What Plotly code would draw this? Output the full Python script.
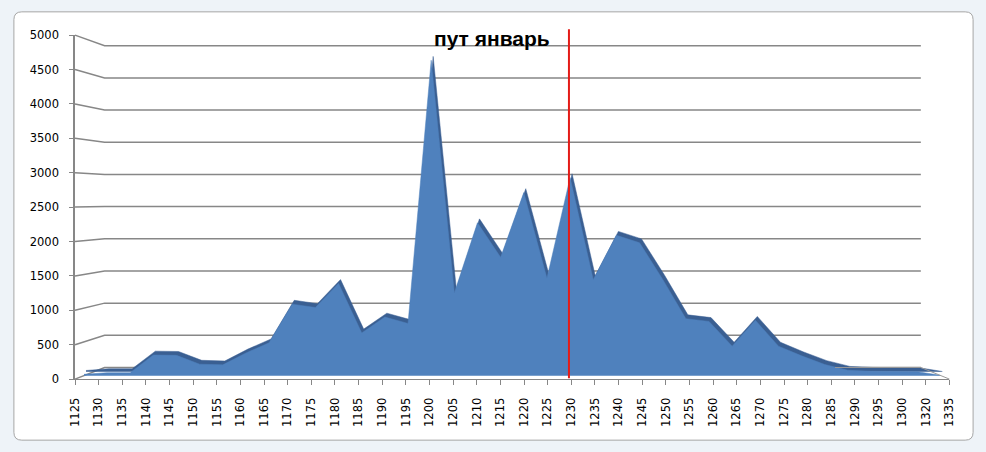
import plotly.graph_objects as go

# ---- data ----
categories = ["1125", "1130", "1135", "1140", "1145", "1150", "1155", "1160", "1165", "1170",
              "1175", "1180", "1185", "1190", "1195", "1200", "1205", "1210", "1215", "1220",
              "1225", "1230", "1235", "1240", "1245", "1250", "1255", "1260", "1265", "1270",
              "1275", "1280", "1285", "1290", "1295", "1300", "1320", "1335"]
values = [20, 45, 45, 305, 300, 170, 160, 335, 485, 1055,
          1005, 1360, 630, 865, 770, 4650, 1220, 2255, 1745, 2700,
          1435, 2920, 1415, 2070, 1960, 1420, 840, 800, 436, 817,
          436, 293, 165, 80, 65, 60, 60, 5]
y_ticks = [0, 500, 1000, 1500, 2000, 2500, 3000, 3500, 4000, 4500, 5000]
title_text = "пут январь"
marker_category = "1230"

W, H = 986, 452
idx = list(range(len(categories)))
n_last = len(categories) - 1


def px(x):
    return x / W


def py(y):
    return 1 - y / H


GRID = "#878787"
FONT = "DejaVu Sans"

fig = go.Figure()

# empty trace so the labelled front axes subplot is created
fig.add_trace(go.Scatter(x=[None], y=[None], xaxis="x", yaxis="y", mode="lines",
                         hoverinfo="skip", showlegend=False))
# back (depth) face of the 3D area
fig.add_trace(go.Scatter(x=idx, y=values, xaxis="x2", yaxis="y2", mode="lines",
                         line=dict(color="#3a5f92", width=0.5), fill="tozeroy",
                         fillcolor="#3a5f92", hoverinfo="skip", showlegend=False))
# front face
fig.add_trace(go.Scatter(x=idx, y=values, xaxis="x3", yaxis="y3", mode="lines",
                         line=dict(color="#4f81bd", width=0.5), fill="tozeroy",
                         fillcolor="#4f81bd", showlegend=False))

shapes = []
# chart area (white rounded rectangle)
x0, y0, x1, y1, r = 7, 5, 980, 447, 8
path = (f"M {px(x0 + r)},{py(y0)} L {px(x1 - r)},{py(y0)} Q {px(x1)},{py(y0)} {px(x1)},{py(y0 + r)} "
        f"L {px(x1)},{py(y1 - r)} Q {px(x1)},{py(y1)} {px(x1 - r)},{py(y1)} "
        f"L {px(x0 + r)},{py(y1)} Q {px(x0)},{py(y1)} {px(x0)},{py(y1 - r)} "
        f"L {px(x0)},{py(y0 + r)} Q {px(x0)},{py(y0)} {px(x0 + r)},{py(y0)} Z")
shapes.append(dict(type="path", path=path, xref="paper", yref="paper", layer="below",
                   fillcolor="white", line=dict(color="#a6a6a6", width=1)))

# perspective gridlines (front wall -> back wall)
FX, BX0, BX1 = 69, 99, 927
for v in y_ticks:
    yf = 384 - v * 0.071
    yb = 372 - v * 0.0664
    shapes.append(dict(type="path", xref="paper", yref="paper", layer="below",
                       path=f"M {px(FX)},{py(yf)} L {px(BX0)},{py(yb)} L {px(BX1)},{py(yb)}",
                       line=dict(color=GRID, width=1.5)))
# floor right edge / back floor outline of the tail
shapes.append(dict(type="path", xref="paper", yref="paper", layer="above",
                   path=f"M {px(840)},{py(372)} L {px(927)},{py(372)} L {px(956)},{py(384)}",
                   line=dict(color="#9a9a9a", width=1)))

# red marker line
mi = categories.index(marker_category)
shapes.append(dict(type="line", xref="x3", yref="paper", layer="above",
                   x0=mi - 0.05, x1=mi - 0.05, y0=py(383), y1=py(23),
                   line=dict(color="#e41b17", width=2)))

ydom = [py(384), py(29)]
fig.update_layout(
    width=W, height=H,
    margin=dict(l=0, r=0, t=0, b=0),
    paper_bgcolor="#eef3f8",
    plot_bgcolor="rgba(0,0,0,0)",
    showlegend=False,
    shapes=shapes,
    xaxis=dict(domain=[px(69), px(956)], range=[0, n_last], tickmode="array",
               tickvals=idx, ticktext=categories, tickangle=-90, ticks="outside",
               ticklen=5, tickcolor=GRID, showline=True, linecolor=GRID, linewidth=1,
               showgrid=False, zeroline=False, anchor="y", ticklabelstandoff=8,
               tickfont=dict(family=FONT, size=11.5, color="#000")),
    yaxis=dict(domain=ydom, range=[0, 5000], tickmode="array", tickvals=y_ticks,
               ticks="outside", ticklen=4, tickcolor=GRID, showline=True, linecolor=GRID,
               linewidth=1.5, showgrid=False, zeroline=False, anchor="x",
               ticklabelstandoff=8,
               tickfont=dict(family=FONT, size=11.5, color="#000")),
    xaxis2=dict(domain=[px(80), px(949)], range=[0, n_last], visible=False, anchor="y2"),
    yaxis2=dict(domain=ydom, range=[-107, 4964], visible=False, anchor="x2"),
    xaxis3=dict(domain=[px(78), px(947)], range=[0, n_last], visible=False, anchor="y3"),
    yaxis3=dict(domain=ydom, range=[-50, 5021], visible=False, anchor="x3"),
    annotations=[dict(text=f"<b>{title_text}</b>", x=px(492), y=py(32), xref="paper",
                      yref="paper", showarrow=False, xanchor="center", yanchor="middle",
                      font=dict(family="Liberation Sans", size=21, color="#000"))],
)

fig.write_html("out.html", config={"displayModeBar": False},
               post_script="document.body.style.margin='0';")
